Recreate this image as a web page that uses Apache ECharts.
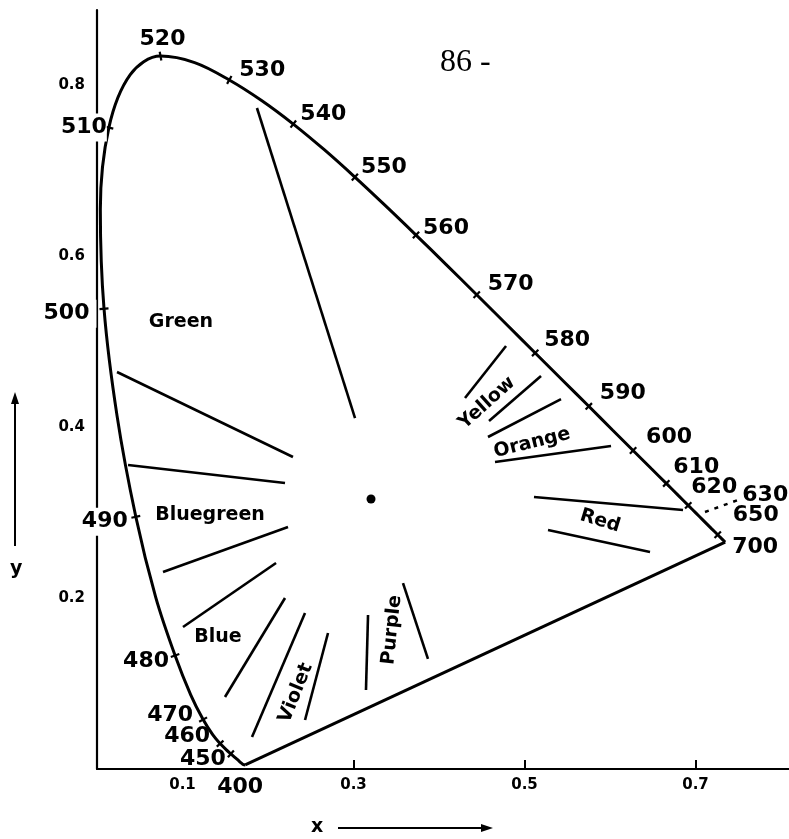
<!DOCTYPE html>
<html><head><meta charset="utf-8">
<script src="https://cdn.jsdelivr.net/npm/echarts@6/dist/echarts.min.js"></script>
<style>html,body{margin:0;padding:0;background:#fff}#chart{width:789px;height:839px}</style>
</head><body><div id="chart"></div>
<script>
// ---- data (chromaticity x, y) ----
const wavelengths = [400,410,420,430,440,450,455,460,465,470,475,480,485,490,495,500,505,510,515,520,525,530,535,540,545,550,555,560,565,570,575,580,585,590,595,600,605,610,615,620,625,630,640,650,660,680,700];
const locusX = [0.1733,0.1726,0.1714,0.1689,0.1644,0.1566,0.1510,0.1440,0.1355,0.1241,0.1096,0.0913,0.0687,0.0454,0.0235,0.0082,0.0039,0.0139,0.0389,0.0743,0.1142,0.1547,0.1929,0.2296,0.2658,0.3016,0.3373,0.3731,0.4087,0.4441,0.4788,0.5125,0.5448,0.5752,0.6029,0.6270,0.6482,0.6658,0.6801,0.6915,0.7006,0.7079,0.7190,0.7260,0.7300,0.7334,0.7347];
const locusY = [0.0048,0.0048,0.0051,0.0069,0.0109,0.0177,0.0227,0.0297,0.0399,0.0578,0.0868,0.1327,0.2007,0.2950,0.4127,0.5384,0.6548,0.7502,0.8120,0.8338,0.8262,0.8059,0.7816,0.7543,0.7243,0.6923,0.6589,0.6245,0.5896,0.5547,0.5202,0.4866,0.4544,0.4242,0.3965,0.3725,0.3514,0.3340,0.3197,0.3083,0.2993,0.2920,0.2809,0.2740,0.2700,0.2666,0.2653];
const labelledWavelengths = [400,450,460,470,480,490,500,510,520,530,540,550,560,570,580,590,600,610,620,630,650,700];
const tickedWavelengths = [450,460,470,480,490,500,510,520,530,540,550,560,570,580,590,600,610,620,650];
const hueNames = ['Green','Bluegreen','Blue','Violet','Purple','Yellow','Orange','Red'];
const hueLabelX = [0.0982,0.1322,0.1415,0.2327,0.3450,0.4561,0.5088,0.5883];
const hueLabelY = [0.5228,0.2971,0.1544,0.0889,0.1626,0.4281,0.3813,0.2901];
const boundaryStart = [[0.1871,0.7731],[0.0234,0.4643],[0.0363,0.3556],[0.0772,0.2304],[0.1006,0.1661],[0.1497,0.0842],[0.1813,0.0374],[0.2433,0.0573],[0.3146,0.0924],[0.3871,0.1287],[0.4304,0.4339],[0.4585,0.4070],[0.4573,0.3883],[0.4655,0.3591],[0.5111,0.3181],[0.5275,0.2795]];
const boundaryEnd   = [[0.3018,0.4105],[0.2292,0.3649],[0.2199,0.3345],[0.2234,0.2830],[0.2094,0.2409],[0.2199,0.2000],[0.2433,0.1825],[0.2702,0.1591],[0.3170,0.1801],[0.3579,0.2175],[0.4784,0.4947],[0.5193,0.4596],[0.5427,0.4327],[0.6012,0.3778],[0.6854,0.3029],[0.6468,0.2538]];
const whitePoint = [0.3205, 0.3158];
const leader630 = [[0.7111,0.3006],[0.7497,0.3146]];
const xTickLabels = [0.1,0.3,0.5,0.7];
const xTickMarks = [0.3,0.5,0.7];
const yTickLabels = [0.2,0.4,0.6,0.8];

// ---- styles / layout ----
const hueLabelRotate = {Green:0, Bluegreen:0, Blue:0, Violet:68, Purple:84, Yellow:42, Orange:14, Red:-17};
const wlLabelOffset = {520:[2,-17],530:[33,-10],540:[30,-10],550:[29,-10],560:[30,-7],570:[34,-10],580:[32,-13],590:[34,-13],600:[36,-13],610:[30,-16],620:[26,-18],630:[63,-24],650:[38,-19],700:[30,5],510:[-26,0],500:[-35,5],490:[-32,5],480:[-29,6],470:[-33,-4],460:[-33,-7],450:[-28,5],400:[-5,22]};
const wlLabelPad = {510:[3,0,3,2],500:[3,7,3,2],490:[3,0,3,2]};
const PX = 855, G_LEFT = 97, G_TOP = 10, G_W = 692, G_H = 759;
const INK = '#000';
const FONT = 'DejaVu Sans';

const locusData = wavelengths.map((w,i)=>[locusX[i], locusY[i]]);
const n = wavelengths.length;

const wlData = labelledWavelengths.map(w=>{
  const i = wavelengths.indexOf(w);
  const ticked = tickedWavelengths.indexOf(w) >= 0;
  let rot = 0;
  if (i > 0 && i < n-1) {
    rot = Math.atan2(locusY[i+1]-locusY[i-1], locusX[i+1]-locusX[i-1]) * 180/Math.PI;
  }
  return {
    value: [locusX[i], locusY[i], w],
    symbolSize: ticked ? [2.2, 9] : 0,
    symbolRotate: rot,
    label: Object.assign({offset: wlLabelOffset[w]}, wlLabelPad[w] ? {backgroundColor:'#fff', padding:wlLabelPad[w]} : {})
  };
});

const hueData = hueNames.map((h,i)=>({
  value:[hueLabelX[i], hueLabelY[i]], name:h,
  label:{rotate: hueLabelRotate[h]}
}));

const chart = echarts.init(document.getElementById('chart'), null, {renderer:'canvas'});
chart.setOption({
  backgroundColor:'#fff',
  animation:false,
  title:{text:'86 -', left:435, top:42, textStyle:{fontFamily:'Liberation Serif', fontSize:32, fontWeight:'normal', color:INK}},
  grid:{left:G_LEFT, top:G_TOP, width:G_W, height:G_H, containLabel:false},
  xAxis:{type:'value', min:0, max:G_W/PX,
    axisLine:{show:true, onZero:false, lineStyle:{color:INK, width:2.2}},
    axisTick:{show:true, inside:true, length:9, customValues:xTickMarks, lineStyle:{color:INK, width:2}},
    axisLabel:{customValues:xTickLabels, formatter:v=>v.toFixed(1), margin:9, fontFamily:FONT, fontSize:15, fontWeight:'bold', color:INK},
    splitLine:{show:false}},
  yAxis:{type:'value', min:0, max:G_H/PX,
    axisLine:{show:true, onZero:false, lineStyle:{color:INK, width:2.2}},
    axisTick:{show:false},
    axisLabel:{customValues:yTickLabels, formatter:v=>v.toFixed(1), margin:12, fontFamily:FONT, fontSize:15, fontWeight:'bold', color:INK},
    splitLine:{show:false}},
  graphic:[
    {type:'line', shape:{x1:15, y1:546, x2:15, y2:400}, style:{stroke:INK, lineWidth:2}},
    {type:'polygon', shape:{points:[[15,392],[11,404],[19,404]]}, style:{fill:INK}},
    {type:'text', left:10, top:560, style:{text:'y', font:'bold 19px "DejaVu Sans"', fill:INK}},
    {type:'line', shape:{x1:338, y1:828, x2:483, y2:828}, style:{stroke:INK, lineWidth:2}},
    {type:'polygon', shape:{points:[[493,828],[481,824],[481,832]]}, style:{fill:INK}},
    {type:'text', left:311, top:818, style:{text:'x', font:'bold 19px "DejaVu Sans"', fill:INK}}
  ],
  series:[
    {type:'line', name:'spectral locus', data:locusData, showSymbol:false, smooth:0.35,
      lineStyle:{color:INK, width:3}, z:3},
    {type:'line', name:'purple line', data:[locusData[n-1], locusData[0]], showSymbol:false,
      lineStyle:{color:INK, width:3}, z:3},
    {type:'lines', coordinateSystem:'cartesian2d', name:'hue boundaries',
      data:boundaryStart.map((s,i)=>({coords:[s, boundaryEnd[i]]})),
      lineStyle:{color:INK, width:2.6, opacity:1, curveness:0}, z:3},
    {type:'lines', coordinateSystem:'cartesian2d', name:'630 leader',
      data:[{coords:leader630}],
      lineStyle:{color:INK, width:2.5, opacity:1, type:[4,6]}, z:3},
    {type:'scatter', name:'white point', data:[whitePoint], symbolSize:9,
      itemStyle:{color:INK, opacity:1}, z:4},
    {type:'scatter', name:'wavelengths', data:wlData, symbol:'rect',
      itemStyle:{color:INK, opacity:1},
      label:{show:true, position:'inside', formatter:p=>String(p.value[2]), opacity:1,
        fontFamily:FONT, fontSize:22, fontWeight:'bold', color:INK, align:'center', verticalAlign:'middle'},
      z:5},
    {type:'scatter', name:'hue names', data:hueData, symbolSize:0,
      itemStyle:{opacity:1},
      label:{show:true, position:'inside', formatter:p=>p.name, opacity:1,
        fontFamily:FONT, fontSize:19, fontWeight:'bold', color:INK, align:'center', verticalAlign:'middle'},
      z:5}
  ]
});
</script></body></html>
